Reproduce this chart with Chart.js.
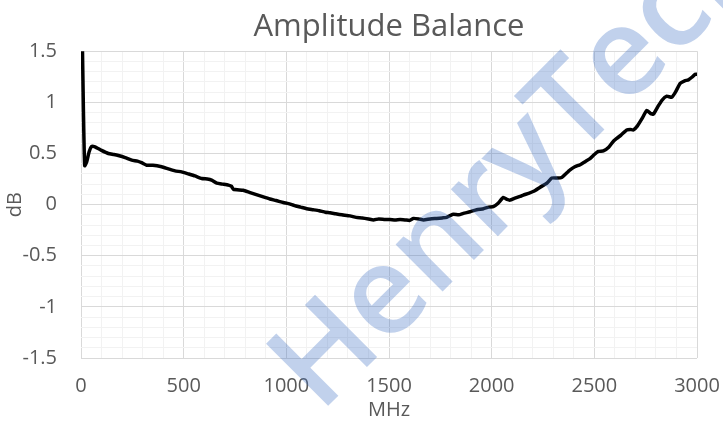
<!DOCTYPE html>
<html>
<head>
<meta charset="utf-8">
<script src="https://cdn.jsdelivr.net/npm/chart.js@4"></script>
<style>
  html, body { margin: 0; padding: 0; background: #ffffff; }
  #wrap { width: 723px; height: 422px; }
</style>
</head>
<body>
<div id="wrap"><canvas id="c" width="723" height="422"></canvas></div>
<script>
const titleText = "Amplitude Balance";
const xTitle = "MHz";
const yTitle = "dB";
const watermarkText = "HenryTech";

const freqMHz = [5, 12, 18, 28, 40, 52, 68, 100, 133, 160, 182, 215, 247, 275, 295, 320, 350, 393, 425, 458, 490, 523, 555, 588, 615, 636, 661, 690, 718, 732, 742, 790, 820, 850, 888, 920, 950, 985, 1010, 1040, 1070, 1099, 1130, 1160, 1190, 1213, 1240, 1270, 1310, 1340, 1370, 1400, 1424, 1450, 1480, 1505, 1530, 1554, 1580, 1600, 1619, 1645, 1668, 1700, 1732, 1760, 1781, 1800, 1814, 1840, 1862, 1895, 1927, 1960, 1985, 2008, 2030, 2057, 2075, 2090, 2110, 2138, 2154, 2180, 2205, 2236, 2269, 2293, 2320, 2341, 2360, 2382, 2405, 2431, 2455, 2479, 2500, 2520, 2544, 2570, 2593, 2611, 2630, 2658, 2675, 2690, 2710, 2735, 2755, 2775, 2788, 2810, 2829, 2853, 2877, 2895, 2918, 2940, 2958, 2975, 2991, 3000];
const balanceDb = [1.8, 0.9, 0.38, 0.42, 0.52, 0.57, 0.565, 0.53, 0.50, 0.49, 0.48, 0.46, 0.435, 0.425, 0.41, 0.385, 0.385, 0.37, 0.35, 0.33, 0.32, 0.30, 0.28, 0.255, 0.25, 0.24, 0.21, 0.20, 0.19, 0.18, 0.15, 0.14, 0.12, 0.10, 0.075, 0.055, 0.04, 0.02, 0.01, -0.01, -0.025, -0.04, -0.05, -0.06, -0.075, -0.08, -0.09, -0.10, -0.11, -0.125, -0.13, -0.14, -0.15, -0.14, -0.145, -0.145, -0.15, -0.145, -0.15, -0.155, -0.135, -0.14, -0.15, -0.14, -0.135, -0.13, -0.125, -0.105, -0.095, -0.10, -0.086, -0.07, -0.05, -0.04, -0.025, -0.02, 0.01, 0.07, 0.05, 0.044, 0.06, 0.08, 0.093, 0.11, 0.13, 0.17, 0.21, 0.26, 0.26, 0.265, 0.30, 0.34, 0.37, 0.39, 0.42, 0.45, 0.49, 0.52, 0.525, 0.56, 0.62, 0.65, 0.68, 0.73, 0.735, 0.73, 0.77, 0.85, 0.92, 0.89, 0.885, 0.96, 1.02, 1.06, 1.05, 1.10, 1.185, 1.21, 1.22, 1.245, 1.275, 1.275];

const xMin = 0, xMax = 3000, xMajor = 500, xMinor = 100;
const yMin = -1.5, yMax = 1.5, yMajor = 0.5, yMinor = 0.1;

const points = freqMHz.map((f, i) => ({ x: f, y: balanceDb[i] }));

const MAJOR = '#d9d9d9';
const MINOR = '#f2f2f2';
const TXT = '#595959';
const FONT = "'Open Sans', sans-serif";

const watermark = {
  id: 'watermark',
  afterDraw(chart) {
    const ctx = chart.ctx;
    ctx.save();
    ctx.translate(320, 414);
    ctx.rotate(-Math.PI / 4);
    ctx.font = "600 123px 'Open Sans', sans-serif";
    ctx.fillStyle = 'rgba(68,114,196,0.33)';
    ctx.textBaseline = 'alphabetic';
    ctx.textAlign = 'left';
    ctx.fillText(watermarkText, 0, 0);
    ctx.restore();
  }
};

new Chart(document.getElementById('c'), {
  type: 'line',
  data: {
    datasets: [{
      data: points,
      borderColor: '#000000',
      borderWidth: 3.5,
      pointRadius: 0,
      tension: 0.15,
      fill: false
    }]
  },
  options: {
    responsive: false,
    animation: false,
    devicePixelRatio: 1,
    layout: { padding: { left: 0, right: 26, top: 0, bottom: 0 } },
    plugins: {
      legend: { display: false },
      tooltip: { enabled: false },
      title: {
        display: true,
        fullSize: false,
        text: titleText,
        color: TXT,
        font: { family: FONT, size: 31, weight: 'normal', lineHeight: 1.2 },
        padding: { top: 9, bottom: 5 }
      }
    },
    scales: {
      x: {
        type: 'linear',
        min: xMin, max: xMax,
        afterFit(s) { s.height = 64; s.paddingLeft = 0; s.paddingRight = 0; },
        ticks: {
          stepSize: xMinor,
          maxTicksLimit: 100,
          autoSkip: false,
          maxRotation: 0,
          padding: 16,
          color: TXT,
          font: { family: FONT, size: 20 },
          callback(v) { return (Math.round(v) % xMajor === 0) ? String(Math.round(v)) : ''; }
        },
        grid: {
          drawTicks: false,
          lineWidth: 1,
          color(ctx) { const v = ctx.tick ? ctx.tick.value : 0; return (Math.round(v) % xMajor === 0) ? MAJOR : MINOR; }
        },
        border: { display: false },
        title: {
          display: true,
          text: xTitle,
          color: TXT,
          font: { family: FONT, size: 20, lineHeight: 1.0 },
          padding: { top: 0, bottom: 2 }
        }
      },
      y: {
        type: 'linear',
        min: yMin, max: yMax,
        afterFit(s) { s.width = 81; s.paddingTop = 0; s.paddingBottom = 0; },
        ticks: {
          stepSize: yMinor,
          maxTicksLimit: 100,
          autoSkip: false,
          padding: 24,
          color: TXT,
          font: { family: FONT, size: 20 },
          callback(v) {
            const k = Math.round(v * 10);
            return (k % 5 === 0) ? String(k / 10) : '';
          }
        },
        grid: {
          drawTicks: false,
          lineWidth: 1,
          color(ctx) { const v = ctx.tick ? ctx.tick.value : 0; return (Math.round(v * 10) % 5 === 0) ? MAJOR : MINOR; }
        },
        border: { display: false },
        title: {
          display: true,
          text: yTitle,
          color: TXT,
          font: { family: FONT, size: 20, lineHeight: 1.2 },
          padding: { top: 3, bottom: 0 }
        }
      }
    }
  },
  plugins: [watermark]
});
</script>
</body>
</html>
